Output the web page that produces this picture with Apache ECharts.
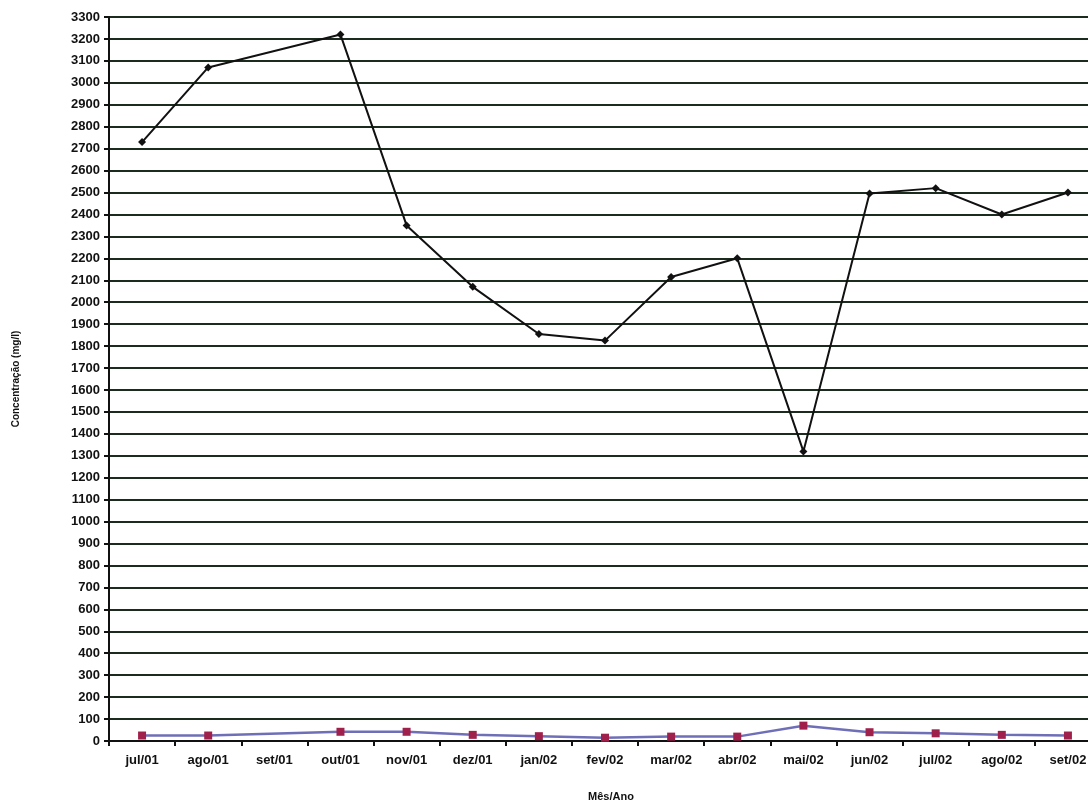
<!DOCTYPE html>
<html>
<head>
<meta charset="utf-8">
<script src="https://cdn.jsdelivr.net/npm/echarts@6/dist/echarts.min.js"></script>
<style>html,body{margin:0;padding:0;background:#fff;}#c{width:1088px;height:801px;}</style>
</head>
<body>
<div id="c"></div>
<script>
const categories = ['jul/01','ago/01','set/01','out/01','nov/01','dez/01','jan/02','fev/02','mar/02','abr/02','mai/02','jun/02','jul/02','ago/02','set/02'];
const seriesA = [2730, 3070, null, 3220, 2350, 2070, 1855, 1825, 2115, 2200, 1320, 2495, 2520, 2400, 2500];
const seriesB = [25, 25, null, 42, 42, 28, 22, 15, 20, 20, 70, 40, 35, 28, 25];
const yMin = 0, yMax = 3300, yStep = 100;

const chart = echarts.init(document.getElementById('c'));
const labelFont = {fontFamily:'Liberation Sans, Arial, sans-serif', fontWeight:'bold', color:'#111'};
chart.setOption({
  animation:false,
  backgroundColor:'#fff',
  grid:{left:109, top:17, right:-13, bottom:60, containLabel:false, outerBoundsMode:'none'},
  xAxis:{
    type:'category', data:categories, boundaryGap:true,
    axisLine:{lineStyle:{color:'#111', width:2}},
    axisTick:{show:true, inside:false, length:5, lineStyle:{color:'#111', width:2}},
    axisLabel:Object.assign({fontSize:13, margin:13, interval:0}, labelFont),
    name:'Mês/Ano', nameLocation:'middle', nameGap:50,
    nameTextStyle:Object.assign({fontSize:11, padding:[0,0,0,12]}, labelFont)
  },
  yAxis:{
    type:'value', min:yMin, max:yMax, interval:yStep,
    axisLine:{show:true, lineStyle:{color:'#111', width:2}},
    axisTick:{show:true, length:5, lineStyle:{color:'#111', width:2}},
    axisLabel:Object.assign({fontSize:13, margin:9, formatter:function(v){return String(v);}}, labelFont),
    splitLine:{show:true, lineStyle:{color:'#1b2b1e', width:2}},
    name:'Concentração (mg/l)', nameLocation:'middle', nameGap:88, nameRotate:90,
    nameTextStyle:Object.assign({fontSize:10}, labelFont)
  },
  series:[
    {type:'line', data:seriesA, connectNulls:true, symbol:'diamond', symbolSize:8,
     lineStyle:{color:'#111', width:2}, itemStyle:{color:'#111'}},
    {type:'line', data:seriesB, connectNulls:true, symbol:'rect', symbolSize:8,
     lineStyle:{color:'#6f6fb8', width:2.5}, itemStyle:{color:'#a0204c'}}
  ]
});
</script>
</body>
</html>
